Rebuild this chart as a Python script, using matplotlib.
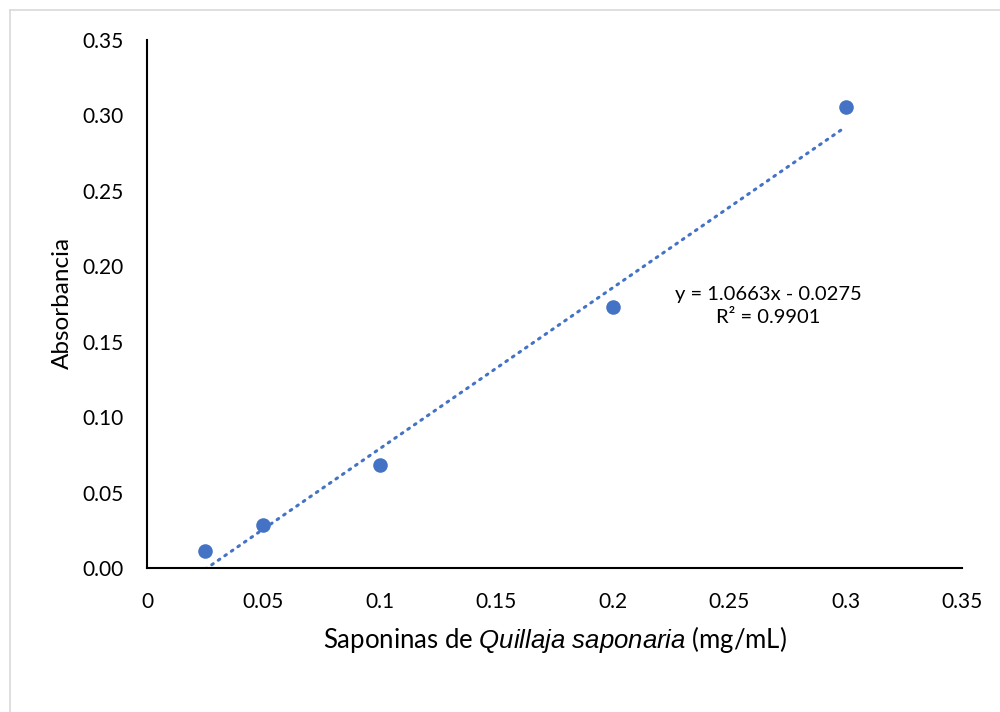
import matplotlib
matplotlib.use("Agg")
import matplotlib.pyplot as plt
from matplotlib.lines import Line2D
import numpy as np

plt.rcParams['font.family'] = ['Lato', 'DejaVu Sans']
plt.rcParams['mathtext.fontset'] = 'custom'
plt.rcParams['mathtext.rm'] = 'Lato'
plt.rcParams['mathtext.it'] = 'Liberation Sans:italic'

# data
concentration = [0.025, 0.05, 0.1, 0.2, 0.3]
absorbance = [0.0113, 0.0285, 0.0683, 0.173, 0.3055]
slope = 1.0663
intercept = -0.0275
r_squared = 0.9901

x_ticks = [0, 0.05, 0.1, 0.15, 0.2, 0.25, 0.3, 0.35]
x_tick_labels = ['0', '0.05', '0.1', '0.15', '0.2', '0.25', '0.3', '0.35']
y_ticks = [0, 0.05, 0.10, 0.15, 0.20, 0.25, 0.30, 0.35]

blue = '#4472C4'
W, H = 1000, 712

fig = plt.figure(figsize=(10, 7.12), dpi=100)
ax = fig.add_axes([147 / W, 1 - 568 / H, (962 - 147) / W, (568 - 40) / H])

# chart border (Excel style)
fig.add_artist(Line2D([9.5 / W, 9.5 / W], [0, 1 - 9.5 / H], transform=fig.transFigure,
                      color='#D9D9D9', lw=1.2))
fig.add_artist(Line2D([9.5 / W, 1], [1 - 9.5 / H, 1 - 9.5 / H], transform=fig.transFigure,
                      color='#D9D9D9', lw=1.2))

# trendline, clipped at y = 0
xs = np.linspace(concentration[0], concentration[-1], 200)
ys = slope * xs + intercept
ax.plot(xs, ys, color=blue, lw=2.2, linestyle=(0, (0.6, 2.0)),
        dash_capstyle='round', zorder=2)

ax.scatter(concentration, absorbance, s=110, color=blue, zorder=3, linewidths=0)

ax.set_xlim(0, 0.35)
ax.set_ylim(0, 0.35)
ax.set_xticks(x_ticks)
ax.set_xticklabels(x_tick_labels)
ax.set_yticks(y_ticks)
ax.set_yticklabels([f'{v:.2f}' for v in y_ticks])
ax.tick_params(axis='both', length=0, labelsize=15)
ax.tick_params(axis='x', pad=17)
ax.tick_params(axis='y', pad=17)

for side in ['top', 'right']:
    ax.spines[side].set_visible(False)
for side in ['left', 'bottom']:
    ax.spines[side].set_linewidth(1.5)
    ax.spines[side].set_color('black')

ax.set_ylabel('Absorbancia', fontsize=17.5, va='center')
ax.yaxis.set_label_coords(-0.104, 0.502)
ax.set_xlabel(r'Saponinas de $\mathit{Quillaja\ saponaria}$ (mg/mL)', fontsize=18.5, va='center')
ax.xaxis.set_label_coords(0.5006, -0.136)

ax.text(0.2667, 0.1737, f'y = {slope:.4f}x - {abs(intercept):.4f}\nR² = {r_squared:.4f}',
        ha='center', va='center', fontsize=14.5, linespacing=1.45)

fig.savefig('out.png', dpi=100)
